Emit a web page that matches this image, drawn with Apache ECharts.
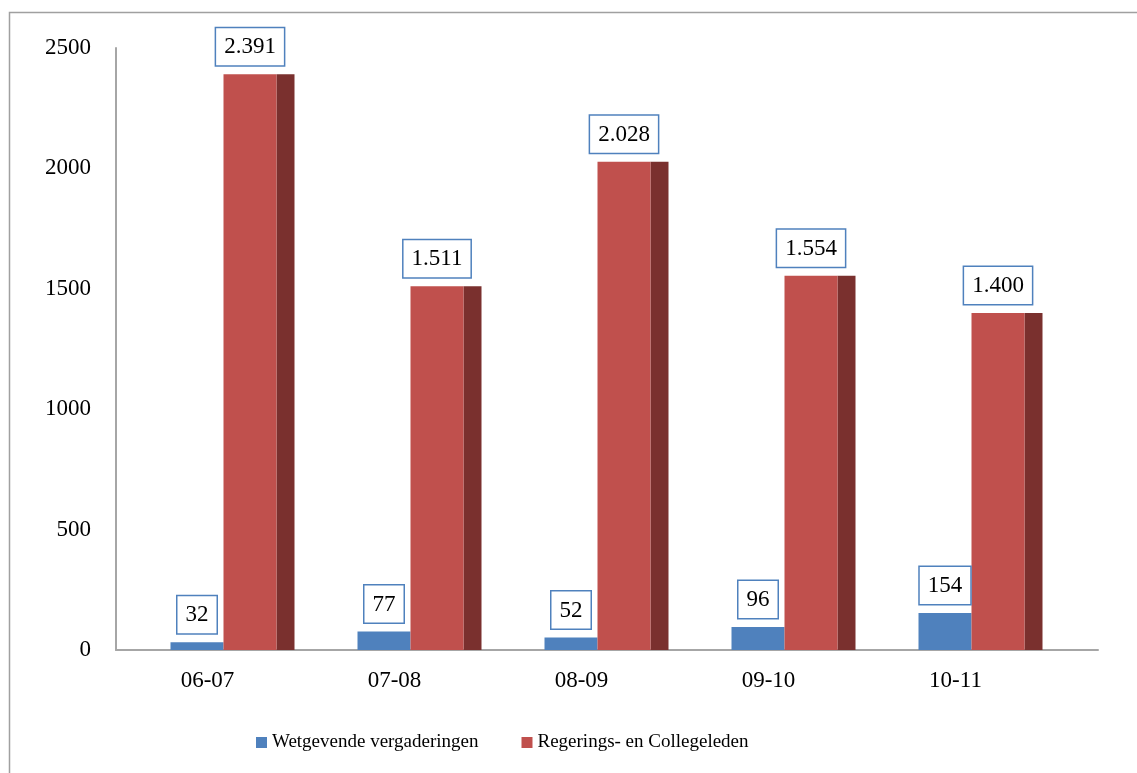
<!DOCTYPE html>
<html>
<head>
<meta charset="utf-8">
<script src="https://cdn.jsdelivr.net/npm/echarts@6/dist/echarts.min.js"></script>
<style>
  html, body { margin: 0; padding: 0; background: #fff; }
  #chart { width: 1137px; height: 773px; }
</style>
</head>
<body>
<div id="chart"></div>
<script>
// Schooljaren en aantallen per groep
const categories = ['06-07', '07-08', '08-09', '09-10', '10-11'];
const wetgevend = [32, 77, 52, 96, 154];
const regering = [2391, 1511, 2028, 1554, 1400];
const yTicks = { min: 0, max: 2500, interval: 500 };

const FONT = '"Liberation Serif", "Times New Roman", serif';
const BLUE = '#4F81BD';
const RED = '#C0504D';
const RED_SIDE = '#7A302E';
const AXIS = '#A6A6A6';

// Dutch thousands separator
function fmt(v) {
  return String(v).replace(/\B(?=(\d{3})+(?!\d))/g, '.');
}

const BAR_W = 53;
const SIDE_W = 18;

const labelBox = {
  show: true,
  position: 'top',
  distance: 9,
  color: '#000',
  fontFamily: FONT,
  fontSize: 23,
  lineHeight: 24,
  backgroundColor: '#fff',
  borderColor: BLUE,
  borderWidth: 1.5,
  padding: [7, 8, 6, 8],
  formatter: p => fmt(p.value)
};

const chart = echarts.init(document.getElementById('chart'), null, { renderer: 'canvas' });

const yBase = Object.assign({ type: 'value' }, yTicks);

chart.setOption({
  backgroundColor: '#fff',
  animation: false,
  graphic: [{
    type: 'rect',
    shape: { x: 9.5, y: 12.5, width: 1200, height: 800 },
    style: { fill: 'none', stroke: '#A0A0A0', lineWidth: 1.5 },
    silent: true
  }],
  legend: {
    bottom: 16,
    left: 251,
    data: ['Wetgevende vergaderingen', 'Regerings- en Collegeleden'],
    icon: 'rect',
    itemWidth: 11,
    itemHeight: 11,
    itemGap: 43,
    textStyle: { fontFamily: FONT, fontSize: 19, color: '#000' }
  },
  grid: [
    // axes frame
    { left: 116, right: 39, top: 48, bottom: 123 },
    // category labels
    { left: 114, width: 935, top: 48, bottom: 123 },
    // bars
    { left: 130, width: 935, top: 48, bottom: 123 }
  ],
  xAxis: [
    {
      gridIndex: 0, type: 'category', data: categories,
      axisLine: { show: true, lineStyle: { color: AXIS, width: 2 } },
      axisTick: { show: false }, axisLabel: { show: false }
    },
    {
      gridIndex: 1, type: 'category', data: categories,
      axisLine: { show: false }, axisTick: { show: false },
      axisLabel: { fontFamily: FONT, fontSize: 23, color: '#000', margin: 19 }
    },
    {
      gridIndex: 2, type: 'category', data: categories,
      axisLine: { show: false }, axisTick: { show: false }, axisLabel: { show: false }
    }
  ],
  yAxis: [
    Object.assign({}, yBase, {
      gridIndex: 0,
      axisLine: { show: true, lineStyle: { color: AXIS, width: 2 } },
      axisTick: { show: false },
      splitLine: { show: false },
      axisLabel: { fontFamily: FONT, fontSize: 23, color: '#000', margin: 25, formatter: v => String(v) }
    }),
    Object.assign({}, yBase, { gridIndex: 1, show: false, splitLine: { show: false } }),
    Object.assign({}, yBase, { gridIndex: 2, show: false, splitLine: { show: false } })
  ],
  series: [
    {
      name: 'Wetgevende vergaderingen',
      type: 'bar',
      xAxisIndex: 2, yAxisIndex: 2,
      data: wetgevend,
      barWidth: BAR_W,
      barGap: '0%',
      itemStyle: { color: BLUE },
      label: labelBox,
      z: 3
    },
    {
      name: 'Regerings- en Collegeleden',
      type: 'bar',
      xAxisIndex: 2, yAxisIndex: 2,
      data: regering,
      barWidth: BAR_W,
      barGap: '0%',
      itemStyle: { color: RED },
      label: labelBox,
      z: 3
    },
    {
      // shaded side faces of the red columns
      name: 'zijvlak',
      type: 'custom',
      xAxisIndex: 2, yAxisIndex: 2,
      data: regering.map((v, i) => [i, v]),
      z: 2,
      silent: true,
      renderItem: function (params, api) {
        const top = api.coord([api.value(0), api.value(1)]);
        const base = api.coord([api.value(0), 0]);
        return {
          type: 'rect',
          shape: {
            x: top[0] + BAR_W,
            y: top[1],
            width: SIDE_W,
            height: base[1] - top[1]
          },
          style: { fill: RED_SIDE }
        };
      }
    }
  ]
});
</script>
</body>
</html>
